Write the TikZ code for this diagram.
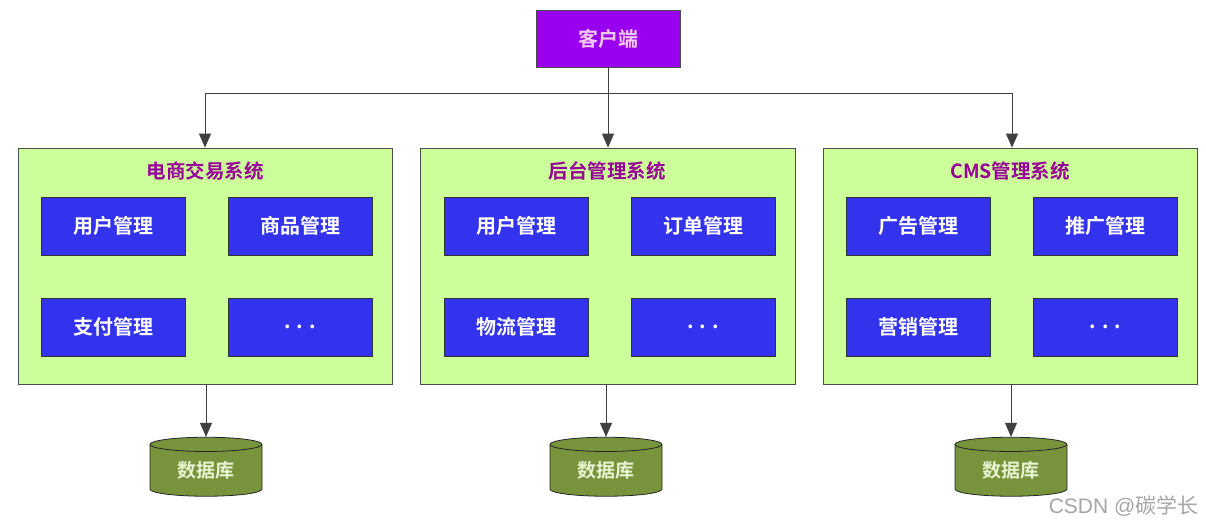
\documentclass[tikz,border=0pt]{standalone}
\usepackage{fontspec}
\setmainfont{Liberation Serif}
\newfontfamily\cjk{Noto Sans CJK SC}
\newfontfamily\cjkb{Noto Sans CJK SC Bold}
\usetikzlibrary{shapes.geometric,arrows.meta}
\definecolor{clientc}{HTML}{9A00F0}
\definecolor{clienttxt}{HTML}{F4C8F4}
\definecolor{sysc}{HTML}{CCFF99}
\definecolor{titlec}{HTML}{990099}
\definecolor{modc}{HTML}{3333EE}
\definecolor{dbc}{HTML}{77933C}
\definecolor{dbtxt}{HTML}{E8F4D0}
\tikzset{
  px/.style={x=1pt,y=-1pt},
  sysbox/.style={draw=black!70,fill=sysc,line width=0.8pt},
  modbox/.style={draw=black!80,fill=modc,line width=0.8pt,minimum width=144pt,minimum height=58pt,text=white,font=\cjkb\fontsize{20}{20}\selectfont,inner sep=0pt},
  systitle/.style={text=titlec,font=\cjkb\fontsize{19.5}{20}\selectfont},
  dbnode/.style={cylinder,shape border rotate=90,aspect=0.25,draw=black!85,fill=dbc,minimum width=112pt,minimum height=59pt,text=dbtxt,font=\cjkb\fontsize{19}{19}\selectfont,line width=0.8pt,inner sep=0pt},
  conn/.style={draw=black!75,line width=0.8pt},
  arr/.style={conn,-{Triangle[length=14pt,width=12pt]}}
}
\begin{document}
\begin{tikzpicture}[px]
\useasboundingbox (0,0) rectangle (1206,524);
\fill[white] (0,0) rectangle (1206,524);
% client
\node[draw=black!70,fill=clientc,minimum width=144pt,minimum height=57pt,text=clienttxt,font=\cjkb\fontsize{20}{20}\selectfont,line width=0.8pt] (client) at (608,38.5) {客户端};
% systems
\node[sysbox,minimum width=374pt,minimum height=236pt,inner sep=0pt] (s1) at (205,266) {};
\node[sysbox,minimum width=375pt,minimum height=236pt,inner sep=0pt] (s2) at (607.5,266) {};
\node[sysbox,minimum width=374pt,minimum height=236pt,inner sep=0pt] (s3) at (1010,266) {};
\node[systitle] (t1) at (205,171) {电商交易系统};
\node[systitle] (t2) at (607,171) {后台管理系统};
\node[systitle] (t3) at (1010,171) {CMS管理系统};
% modules
\node[modbox] (m11) at (113,226) {用户管理};
\node[modbox] (m12) at (300,226) {商品管理};
\node[modbox] (m13) at (113,327) {支付管理};
\node[modbox] (m14) at (300,327) {. . .};
\node[modbox] (m21) at (516,226) {用户管理};
\node[modbox] (m22) at (703,226) {订单管理};
\node[modbox] (m23) at (516,327) {物流管理};
\node[modbox] (m24) at (703,327) {. . .};
\node[modbox] (m31) at (918,226) {广告管理};
\node[modbox] (m32) at (1105.5,226) {推广管理};
\node[modbox] (m33) at (918,327) {营销管理};
\node[modbox] (m34) at (1105.5,327) {. . .};
% databases
\node[dbnode] (d1) at (206,470.5) {数据库};
\node[dbnode] (d2) at (606,470.5) {数据库};
\node[dbnode] (d3) at (1011,470.5) {数据库};
% connectors
\coordinate (j) at (608,93);
\coordinate (jl) at (205,93);
\coordinate (jr) at (1012,93);
\draw[conn] (client.south) -- (j);
\draw[conn] (jl) -- (jr);
\draw[arr] (jl) -- (s1.north);
\draw[arr] (j) -- (s2.north -| j);
\draw[arr] (jr) -- (s3.north -| jr);
\draw[arr] (s1.south -| d1) -- (d1.top);
\draw[arr] (s2.south -| d2) -- (d2.top);
\draw[arr] (s3.south -| d3) -- (d3.top);
% watermark
\node[anchor=east,text=black!35,font=\fontsize{21}{21}\selectfont] (wm) at (1202,506) {\fontspec{Liberation Sans}CSDN @\cjk 碳学长};
\end{tikzpicture}
\end{document}
